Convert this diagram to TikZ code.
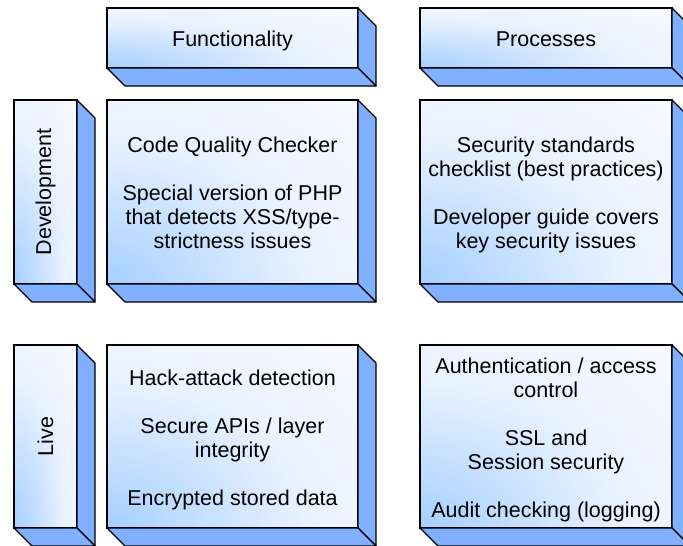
\documentclass[tikz,border=0pt]{standalone}
\usepackage{fontspec}
\setmainfont{Liberation Sans}
\usetikzlibrary{calc}

\definecolor{sideblue}{RGB}{128,176,255}
\definecolor{faceblue}{RGB}{165,207,255}
\definecolor{facemid}{RGB}{233,242,255}

% pale glow from the lower left corner of a face
\pgfdeclareradialshading{cornerglow}{\pgfpoint{0bp}{0bp}}{color(0bp)=(faceblue); color(10bp)=(facemid); color(22bp)=(white); color(50bp)=(white)}

\newcommand{\depth}{18}
% right and bottom faces of a slab
\newcommand{\Extrude}[1]{%
   \filldraw[Side] (#1.north east) -- ++(\depth,\depth)
      -- ([shift={(\depth,\depth)}]#1.south east) -- (#1.south east) -- cycle;
   \filldraw[Side] (#1.south west) -- (#1.south east)
      -- ([shift={(\depth,\depth)}]#1.south east)
      -- ([shift={(\depth,\depth)}]#1.south west) -- cycle;}
% text block, set a little low in its face
\newcommand{\Txt}[1]{\raisebox{0pt}[\dimexpr\height+8pt\relax]{\begin{tabular}{@{}c@{}}#1\end{tabular}}}

\begin{document}
\begin{tikzpicture}[x=1pt, y=-1pt]
   \tikzset{Face/.style={draw=black, line width=1.2pt, outer sep=0pt, inner sep=0pt,
      font=\fontsize{21.5}{24}\selectfont, fill=white,
      path picture={
         \coordinate (sw) at (path picture bounding box.south west);
         \coordinate (ne) at (path picture bounding box.north east);
         \shade[shading=cornerglow] let \p1=($(ne)-(sw)$) in
            (sw) ellipse [x radius=2*\x1, y radius=2*\y1];}}}
   \tikzset{Side/.style={draw=black, line width=1.2pt, fill=sideblue, line join=round}}
   \path[use as bounding box, clip] (0,0) rectangle (683,546);

   \node[Face, minimum width=251, minimum height=60] (head-func) at (232.5,38) {\Txt{Functionality}};
   \node[Face, minimum width=252, minimum height=60] (head-proc) at (546,38) {\Txt{Processes}};

   \node[Face, minimum width=63, minimum height=184] (row-dev) at (45.5,192) {\rotatebox{90}{Development}};
   \node[Face, minimum width=63, minimum height=183] (row-live) at (45.5,436.5) {\rotatebox{90}{Live}};

   \node[Face, minimum width=251, minimum height=184] (dev-func) at (232.5,192)
      {\Txt{Code Quality Checker\\[24pt] Special version of PHP\\ that detects XSS/type-\\ strictness issues}};
   \node[Face, minimum width=252, minimum height=184] (dev-proc) at (546,192)
      {\Txt{Security standards\\ checklist (best practices)\\[24pt] Developer guide covers\\ key security issues}};

   \node[Face, minimum width=251, minimum height=183] (live-func) at (232.5,436.5)
      {\Txt{Hack-attack detection\\[24pt] Secure APIs / layer\\ integrity\\[24pt] Encrypted stored data}};
   \node[Face, minimum width=252, minimum height=183] (live-proc) at (546,436.5)
      {\Txt{Authentication / access\\ control\\[24pt] SSL and\\ Session security\\[24pt] Audit checking (logging)}};

   \foreach \b in {head-func,head-proc,row-dev,row-live,dev-func,dev-proc,live-func,live-proc}
      \Extrude{\b};
\end{tikzpicture}
\end{document}
